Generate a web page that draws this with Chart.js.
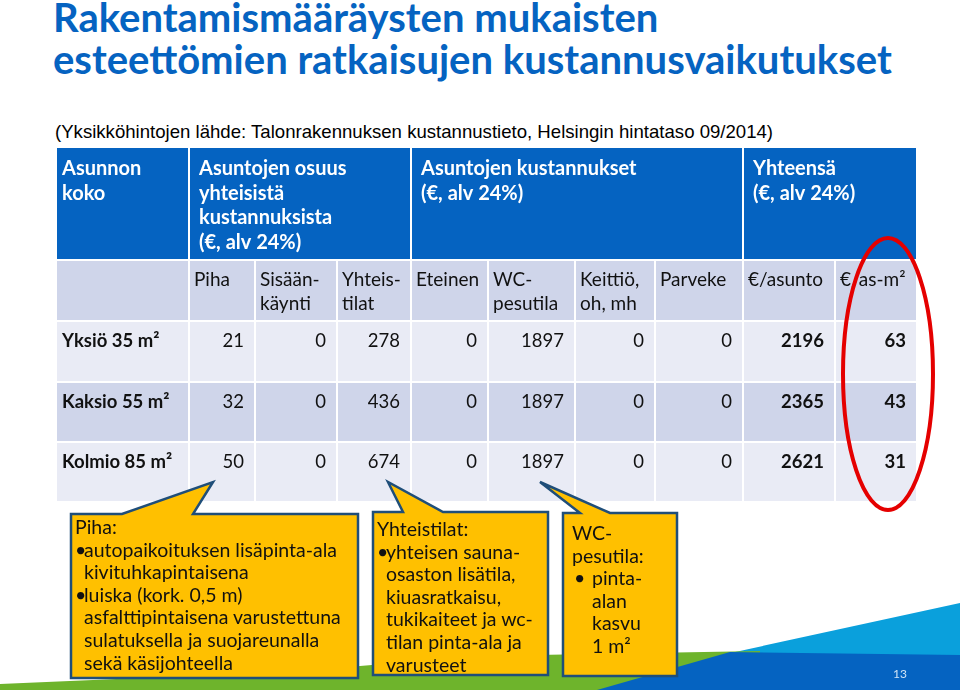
<!DOCTYPE html>
<html lang="fi">
<head>
<meta charset="utf-8">
<title>Esteettömien ratkaisujen kustannusvaikutukset</title>
<script src="https://cdn.jsdelivr.net/npm/chart.js@4"></script>
<style>
    body {
        margin: 0;
        background: #fff;
    }
    #slide {
        position: relative;
        width: 960px;
        height: 690px;
        overflow: hidden;
        font-family: Lato, 'Open Sans', sans-serif;
    }
    #slide > * {
        position: absolute;
    }
    #title {
        left: 53px;
        top: -4px;
        font-size: 40px;
        line-height: 42px;
        font-weight: bold;
        color: #0563c1;
        white-space: nowrap;
    }
    #source {
        left: 55px;
        top: 122px;
        font-family: 'Liberation Sans', Arial, sans-serif;
        font-size: 18.6px;
        line-height: 20px;
        color: #000;
        white-space: nowrap;
    }
    #tableChart {
        left: 0;
        top: 0;
    }
    #shapes {
        left: 0;
        top: 0;
    }
    .note {
        font-size: 19.5px;
        line-height: 22.6px;
        color: #111;
        white-space: nowrap;
    }
    .note .ind {
        padding-left: 9px;
    }
    .note .bul {
        display: inline-block;
        width: 9px;
        margin-left: -9px;
    }
    #page {
        left: 893px;
        top: 666px;
        font-size: 12px;
        color: #cfe3f6;
    }
</style>
</head>
<body>
<div id="slide">
    <div id="title">Rakentamismääräysten mukaisten<br>esteettömien ratkaisujen kustannusvaikutukset</div>
    <div id="source">(Yksikköhintojen lähde: Talonrakennuksen kustannustieto, Helsingin hintataso 09/2014)</div>
    <canvas id="tableChart" width="960" height="690"></canvas>
    <svg id="shapes" width="960" height="690">
        <!-- footer waves -->
        <polygon points="560,690 960,603 960,690" fill="#0aa0dc" />
        <polygon points="0,684 300,671 480,656 760,651 760,690 0,690" fill="#6eb42c" />
        <polygon points="597,690 730,652 960,655 960,690" fill="#0563c1" />
        <!-- callouts -->
        <path d="M71,514 L122,514 L213,482 L193,514 L358,514 L358,678 L71,678 Z" fill="#ffc000" stroke="#1f4e79" stroke-width="2.5" />
        <path d="M373,512 L403,512 L388,482 L443,512 L548,512 L548,675 L373,675 Z" fill="#ffc000" stroke="#1f4e79" stroke-width="2.5" />
        <path d="M563,513 L580,513 L540,482 L610,513 L677,513 L677,676 L563,676 Z" fill="#ffc000" stroke="#1f4e79" stroke-width="2.5" />
        <!-- highlight of the per-square-metre column -->
        <ellipse cx="888" cy="374" rx="45" ry="136" fill="none" stroke="#e50000" stroke-width="4" />
    </svg>
    <div class="note" style="left:75px; top:516px;">
        <div>Piha:</div>
        <div class="ind"><span class="bul">•</span>autopaikoituksen lisäpinta-ala</div>
        <div class="ind">kivituhkapintaisena</div>
        <div class="ind"><span class="bul">•</span>luiska (kork. 0,5 m)</div>
        <div class="ind">asfalttipintaisena varustettuna</div>
        <div class="ind">sulatuksella ja suojareunalla</div>
        <div class="ind">sekä käsijohteella</div>
    </div>
    <div class="note" style="left:377px; top:518px;">
        <div>Yhteistilat:</div>
        <div class="ind"><span class="bul">•</span>yhteisen sauna-</div>
        <div class="ind">osaston lisätila,</div>
        <div class="ind">kiuasratkaisu,</div>
        <div class="ind">tukikaiteet ja wc-</div>
        <div class="ind">tilan pinta-ala ja</div>
        <div class="ind">varusteet</div>
    </div>
    <div class="note" style="left:572px; top:522px;">
        <div>WC-</div>
        <div>pesutila:</div>
        <div class="ind" style="padding-left:20px;"><span class="bul" style="width:18px; margin-left:-18px;">•</span>pinta-</div>
        <div class="ind" style="padding-left:20px;">alan</div>
        <div class="ind" style="padding-left:20px;">kasvu</div>
        <div class="ind" style="padding-left:20px;">1 m²</div>
    </div>
    <div id="page">13</div>
</div>
<script>
    const groupLabels = [
        ['Asunnon', 'koko'],
        ['Asuntojen osuus', 'yhteisistä', 'kustannuksista', '(€, alv 24%)'],
        ['Asuntojen kustannukset', '(€, alv 24%)'],
        ['Yhteensä', '(€, alv 24%)'],
    ]
    const columnLabels = [
        [],
        ['Piha'],
        ['Sisään-', 'käynti'],
        ['Yhteis-', 'tilat'],
        ['Eteinen'],
        ['WC-', 'pesutila'],
        ['Keittiö,', 'oh, mh'],
        ['Parveke'],
        ['€/asunto'],
        ['€/as-m²'],
    ]
    const rowLabels = ['Yksiö 35 m²', 'Kaksio 55 m²', 'Kolmio 85 m²']

    const pihaValues = [21, 32, 50]
    const sisaankayntiValues = [0, 0, 0]
    const yhteistilatValues = [278, 436, 674]
    const eteinenValues = [0, 0, 0]
    const wcValues = [1897, 1897, 1897]
    const keittioValues = [0, 0, 0]
    const parvekeValues = [0, 0, 0]
    const perFlatValues = [2196, 2365, 2621]
    const perSqmValues = [63, 43, 31]

    const valueColumns = [
        pihaValues,
        sisaankayntiValues,
        yhteistilatValues,
        eteinenValues,
        wcValues,
        keittioValues,
        parvekeValues,
        perFlatValues,
        perSqmValues,
    ]

    // table layout in table units (1 unit = 1 px at this size)
    const colEdges = [0, 133, 199, 281, 355, 432, 519, 599, 687, 779, 861]
    const rowEdges = [0, 113, 174, 235, 295, 355]
    const groupSpans = [[0, 1], [1, 4], [4, 8], [8, 10]]
    const boldColumns = [8, 9]
    const GAP = 2
    const BLUE = '#0563c1'
    const rowFills = ['#e9ebf5', '#cfd5ea', '#e9ebf5']
    const FONT = 'Lato, "Open Sans", sans-serif'

    const tablePlugin = {
        id: 'costTable',
        beforeDatasetsDraw(chart) {
            const ctx = chart.ctx
            const xs = chart.scales.x
            const ys = chart.scales.y

            function cell(c0, c1, r, fill) {
                const left = xs.getPixelForValue(colEdges[c0])
                const right = xs.getPixelForValue(colEdges[c1]) - GAP
                const top = ys.getPixelForValue(rowEdges[r])
                const bottom = ys.getPixelForValue(rowEdges[r + 1]) - GAP
                ctx.fillStyle = fill
                ctx.fillRect(left, top, right - left, bottom - top)
                return { left, right, top }
            }

            function lines(texts, px, py, step) {
                texts.forEach((t, i) => ctx.fillText(t, px, py + i * step))
            }

            ctx.save()
            ctx.textBaseline = 'middle'

            // header: column groups
            ctx.font = `bold 20px ${FONT}`
            groupSpans.forEach(([c0, c1], g) => {
                const box = cell(c0, c1, 0, BLUE)
                ctx.fillStyle = '#fff'
                ctx.textAlign = 'left'
                lines(groupLabels[g], box.left + (g === 0 ? 5 : 9), box.top + 21, 24.5)
            })

            // header: columns
            ctx.font = `19px ${FONT}`
            columnLabels.forEach((labels, c) => {
                const box = cell(c, c + 1, 1, '#cfd5ea')
                ctx.fillStyle = '#111'
                ctx.textAlign = 'left'
                lines(labels, box.left + 4, box.top + 19, 24)
            })

            // body
            rowLabels.forEach((label, r) => {
                const first = cell(0, 1, r + 2, rowFills[r])
                ctx.fillStyle = '#111'
                ctx.textAlign = 'left'
                ctx.font = `bold 18.5px ${FONT}`
                ctx.fillText(label, first.left + 5, first.top + 19)

                valueColumns.forEach((values, i) => {
                    const c = i + 1
                    const box = cell(c, c + 1, r + 2, rowFills[r])
                    ctx.fillStyle = '#111'
                    ctx.textAlign = 'right'
                    ctx.font = `${boldColumns.includes(c) ? 'bold ' : ''}18.5px ${FONT}`
                    ctx.fillText(String(values[r]), box.right - 10, box.top + 19)
                })
            })
            ctx.restore()
        },
    }

    const canvas = document.getElementById('tableChart')
    new Chart(canvas.getContext('2d'), {
        type: 'scatter',
        data: { datasets: [] },
        options: {
            responsive: false,
            animation: false,
            events: [],
            layout: {
                padding: { left: 57, right: 42, top: 148, bottom: 187 },
            },
            scales: {
                x: { type: 'linear', min: 0, max: 861, display: false },
                y: { type: 'linear', min: 0, max: 355, reverse: true, display: false },
            },
            plugins: {
                legend: { display: false },
                tooltip: { enabled: false },
            },
        },
        plugins: [tablePlugin],
    })
</script>
</body>
</html>
